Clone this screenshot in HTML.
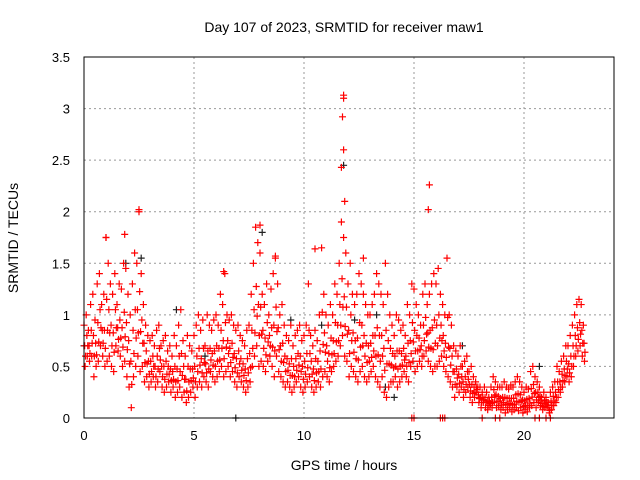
<!DOCTYPE html>
<html><head><meta charset="utf-8"><style>
body{margin:0;background:#fff}
svg{display:block;font-family:"Liberation Sans",sans-serif}
</style></head><body>
<svg id="c" width="640" height="480" xmlns="http://www.w3.org/2000/svg">
<text x="344" y="32" font-size="14" text-anchor="middle">Day 107 of 2023, SRMTID for receiver maw1</text>
<text x="344" y="470" font-size="14" text-anchor="middle">GPS time / hours</text>
<text transform="translate(18,238) rotate(-90)" font-size="14" text-anchor="middle">SRMTID / TECUs</text>
<g id="grid"></g><g id="ticks"></g><g id="marks"></g>
<rect x="84" y="57" width="530" height="361" fill="none" stroke="#000" stroke-width="1"/>
</svg>
<script>
const xTicks=[0,5,10,15,20];
const yTicks=[0,0.5,1,1.5,2,2.5,3,3.5];
const yTickLabels=["0","0.5","1","1.5","2","2.5","3","3.5"];
const hi=[0.9,1.0,0.85,1.1,1.2,0.95,1.3,1.4,1.1,1.2,
1.75,1.5,1.3,1.2,1.4,1.1,1.3,1.25,1.5,1.45,
1.2,1.0,1.3,1.6,1.5,2.0,1.4,1.1,0.9,0.8,
0.75,0.8,0.7,0.85,0.9,0.7,0.75,0.8,0.65,0.7,
0.6,0.8,0.7,0.9,1.05,0.75,0.6,0.8,0.7,0.65,
0.8,0.9,1.0,0.85,0.95,0.7,1.0,0.9,0.85,0.95,
1.0,0.9,1.2,1.1,1.4,1.0,0.95,1.0,0.9,0.85,
0.9,0.8,0.75,0.7,0.85,0.9,1.2,1.5,1.85,1.7,
1.6,1.2,1.1,1.3,1.0,1.25,1.4,1.55,1.3,1.0,
1.1,0.9,0.8,0.75,0.9,0.7,0.8,0.85,0.9,0.75,
0.8,0.9,1.3,0.8,0.7,0.85,0.75,1.0,1.65,1.2,
1.0,0.9,1.1,1.0,1.3,1.2,1.5,1.9,1.75,1.6,
1.3,1.5,1.2,1.1,1.2,1.4,1.3,1.2,1.1,1.0,
1.0,1.1,1.2,1.4,1.3,1.2,1.1,1.5,1.2,1.0,
0.9,0.8,1.0,0.95,0.85,0.9,0.8,1.1,1.0,1.3,
1.25,1.1,1.0,0.9,1.2,1.3,1.1,1.2,1.3,1.4,
1.3,1.45,1.2,1.1,1.0,1.55,1.0,0.9,0.7,0.65,
0.6,0.7,0.5,0.55,0.6,0.45,0.5,0.4,0.35,0.3,
0.3,0.25,0.3,0.25,0.2,0.3,0.4,0.35,0.3,0.3,
0.3,0.35,0.3,0.28,0.32,0.3,0.35,0.4,0.35,0.3,
0.25,0.3,0.28,0.45,0.5,0.4,0.35,0.3,0.2,0.25,
0.2,0.15,0.25,0.3,0.35,0.5,0.45,0.55,0.6,0.7,
0.7,0.8,0.9,1.0,1.1,1.15,1.1,0.9];
const lo=[0.5,0.6,0.55,0.6,0.4,0.5,0.55,0.7,0.6,0.5,
0.55,0.6,0.5,0.45,0.7,0.65,0.6,0.5,0.55,0.4,
0.3,0.1,0.4,0.5,0.6,0.45,0.5,0.35,0.4,0.3,
0.35,0.4,0.3,0.35,0.45,0.3,0.25,0.3,0.35,0.25,
0.3,0.2,0.25,0.3,0.2,0.25,0.15,0.2,0.25,0.3,
0.2,0.3,0.35,0.3,0.4,0.35,0.3,0.45,0.4,0.35,
0.4,0.45,0.5,0.4,0.45,0.5,0.4,0.45,0.35,0.3,
0.4,0.35,0.3,0.25,0.3,0.35,0.5,0.6,0.7,0.5,
0.55,0.5,0.45,0.55,0.6,0.5,0.4,0.6,0.45,0.4,
0.35,0.3,0.35,0.3,0.25,0.3,0.35,0.4,0.3,0.25,
0.3,0.35,0.4,0.3,0.25,0.3,0.35,0.3,0.4,0.45,
0.4,0.35,0.45,0.5,0.55,0.6,0.7,0.8,0.6,0.55,
0.4,0.5,0.45,0.4,0.35,0.45,0.5,0.4,0.35,0.4,
0.45,0.5,0.4,0.35,0.3,0.4,0.25,0.2,0.3,0.35,
0.35,0.4,0.3,0.35,0.4,0.45,0.4,0.35,0.5,0.55,
0.45,0.5,0.55,0.5,0.6,0.65,0.55,0.5,0.45,0.5,
0.5,0.55,0.6,0.5,0.45,0.4,0.35,0.3,0.2,0.3,
0.25,0.3,0.2,0.25,0.3,0.2,0.15,0.2,0.25,0.15,
0.1,0.15,0.1,0.08,0.12,0.1,0.15,0.1,0.12,0.08,
0.1,0.05,0.08,0.1,0.06,0.08,0.1,0.07,0.1,0.05,
0.08,0.06,0.1,0.12,0.15,0.1,0.15,0.12,0.08,0.1,
0.1,0.05,0.08,0.12,0.15,0.2,0.25,0.3,0.35,0.4,
0.35,0.4,0.5,0.6,0.65,0.7,0.6,0.55];
const spikeT=[11.8,11.8,11.75,11.8,11.7,11.85,15.7,15.65,2.5,8.0,1.0,1.85,6.35,12.7,8.7,10.5];
const spikeV=[3.13,3.1,2.92,2.6,2.43,2.1,2.26,2.02,2.02,1.87,1.75,1.78,1.42,1.55,1.57,1.64];
const zeroT=[14.9,15.0,16.2,16.3,16.4,18.1,18.7,18.9,20.5,20.7,21.0,21.2];
const zeroV=[0,0,0,0,0,0,0,0,0,0,0,0];
const blackT=[0.0,1.9,4.2,8.1,9.4,10.8,11.8,13.3,13.7,14.1,17.2,20.7,6.9,2.6,5.5,12.3];
const blackV=[0.7,1.5,1.05,1.8,0.95,0.9,2.45,1.0,0.3,0.2,0.7,0.5,0,1.55,0.6,0.95];

const NS="http://www.w3.org/2000/svg";
const X=t=>84+t*22, Y=v=>418-v*103.14;
const grid=document.getElementById('grid'),ticks=document.getElementById('ticks'),marks=document.getElementById('marks');
function mk(tag,attrs,parent){const e=document.createElementNS(NS,tag);for(const k in attrs)e.setAttribute(k,attrs[k]);parent.appendChild(e);return e;}
xTicks.forEach(t=>{
  if(t>0){const g=mk('line',{x1:X(t),x2:X(t),y1:57,y2:418,stroke:'#999','stroke-dasharray':'2,3'},grid);
  
  }
  const l=mk('text',{x:X(t),y:440,'font-size':13,'text-anchor':'middle'},ticks);l.textContent=t;
  
  
});
yTicks.forEach((v,i)=>{
  if(v>0&&v<3.5){const g=mk('line',{x1:84,x2:614,y1:Y(v),y2:Y(v),stroke:'#999','stroke-dasharray':'2,3'},grid);
  
  }
  const l=mk('text',{x:70,y:Y(v)+5,'font-size':13,'text-anchor':'end'},ticks);l.textContent=yTickLabels[i];
  
  
});
function plus(t,v,col,name){
  const x=X(t),y=Y(v);
  const p=mk('path',{d:`M${x-3.5},${y}H${x+3.5}M${x},${y-3.5}V${y+3.5}`,stroke:col,'stroke-width':1.2,fill:'none'},marks);
  
  
}
blackT.forEach((t,i)=>plus(t,blackV[i],'#222','point-black'));
hi.forEach((v,i)=>{
  const t=i*0.1;
  plus(t,v,'#f00','point-high');
  plus(t+0.05,lo[i],'#f00','point-low');
  plus(t+0.03,(v+lo[i])/2,'#f00','point-mid');
  plus(t+0.07,(v+3*lo[i])/4,'#f00','point-mid-low');
});
spikeT.forEach((t,i)=>plus(t,spikeV[i],'#f00','point-spike'));
zeroT.forEach((t,i)=>plus(t,zeroV[i],'#f00','point-zero'));
</script>
</body></html>
